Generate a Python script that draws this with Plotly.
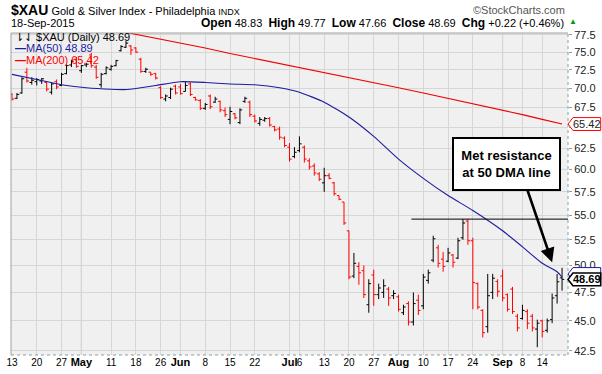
import math
import plotly.graph_objects as go

# ---------------- data ----------------
dates = [
    "2015-04-13", "2015-04-14", "2015-04-15", "2015-04-16", "2015-04-17",
    "2015-04-20", "2015-04-21", "2015-04-22", "2015-04-23", "2015-04-24",
    "2015-04-27", "2015-04-28", "2015-04-29", "2015-04-30", "2015-05-01",
    "2015-05-04", "2015-05-05", "2015-05-06", "2015-05-07", "2015-05-08",
    "2015-05-11", "2015-05-12", "2015-05-13", "2015-05-14", "2015-05-15",
    "2015-05-18", "2015-05-19", "2015-05-20", "2015-05-21", "2015-05-22",
    "2015-05-26", "2015-05-27", "2015-05-28", "2015-05-29", "2015-06-01",
    "2015-06-02", "2015-06-03", "2015-06-04", "2015-06-05", "2015-06-08",
    "2015-06-09", "2015-06-10", "2015-06-11", "2015-06-12", "2015-06-15",
    "2015-06-16", "2015-06-17", "2015-06-18", "2015-06-19", "2015-06-22",
    "2015-06-23", "2015-06-24", "2015-06-25", "2015-06-26", "2015-06-29",
    "2015-06-30", "2015-07-01", "2015-07-02", "2015-07-06", "2015-07-07",
    "2015-07-08", "2015-07-09", "2015-07-10", "2015-07-13", "2015-07-14",
    "2015-07-15", "2015-07-16", "2015-07-17", "2015-07-20", "2015-07-21",
    "2015-07-22", "2015-07-23", "2015-07-24", "2015-07-27", "2015-07-28",
    "2015-07-29", "2015-07-30", "2015-07-31", "2015-08-03", "2015-08-04",
    "2015-08-05", "2015-08-06", "2015-08-07", "2015-08-10", "2015-08-11",
    "2015-08-12", "2015-08-13", "2015-08-14", "2015-08-17", "2015-08-18",
    "2015-08-19", "2015-08-20", "2015-08-21", "2015-08-24", "2015-08-25",
    "2015-08-26", "2015-08-27", "2015-08-28", "2015-08-31", "2015-09-01",
    "2015-09-02", "2015-09-03", "2015-09-04", "2015-09-08", "2015-09-09",
    "2015-09-10", "2015-09-11", "2015-09-14", "2015-09-15", "2015-09-16",
    "2015-09-17", "2015-09-18",
]

opens = [
    69.2, 68.7, 69.4, 72.2, 70.8, 70.9, 71.0, 70.8, 69.5, 70.9,
    70.4, 72.0, 73.2, 74.0, 72.4, 73.2, 74.6, 72.9, 70.5, 72.0,
    72.6, 73.1, 75.2, 75.7, 75.9, 75.6, 74.0, 72.3, 72.2, 72.0,
    70.1, 68.6, 68.8, 70.3, 70.2, 69.6, 70.6, 68.8, 68.4, 67.4,
    69.0, 68.2, 68.3, 67.1, 66.0, 66.7, 65.6, 68.3, 68.2, 66.4,
    65.5, 65.9, 66.1, 65.1, 64.8, 63.7, 62.6, 61.5, 62.2, 62.6,
    61.0, 60.4, 59.5, 58.5, 59.3, 58.5, 57.1, 56.4, 53.4, 49.0,
    49.9, 49.5, 46.4, 49.1, 47.3, 47.5, 47.8, 47.2, 47.1, 45.7,
    46.5, 44.9, 46.8, 46.3, 48.6, 50.5, 51.7, 50.6, 50.4, 51.0,
    50.7, 52.7, 54.4, 52.4, 48.3, 45.9, 44.5, 47.5, 48.5, 49.0,
    47.3, 47.8, 45.4, 45.2, 45.8, 45.4, 44.3, 45.0, 44.2, 45.1,
    47.2, 48.83,
]
highs = [
    69.4, 69.4, 71.5, 72.8, 71.5, 71.4, 71.4, 70.9, 70.8, 71.2,
    72.1, 73.3, 73.9, 74.3, 73.2, 73.5, 74.9, 73.2, 72.1, 73.0,
    73.2, 73.9, 76.0, 76.6, 76.0, 75.7, 74.2, 72.8, 72.2, 72.1,
    70.3, 69.2, 70.1, 70.5, 70.6, 70.9, 70.8, 68.9, 68.6, 68.1,
    69.2, 68.9, 68.4, 67.5, 67.6, 66.8, 67.4, 68.9, 68.4, 66.6,
    66.3, 66.3, 66.3, 65.2, 65.1, 63.9, 63.1, 62.6, 63.9, 62.8,
    61.3, 60.7, 59.7, 60.2, 59.6, 58.6, 57.1, 56.4, 53.4, 51.2,
    50.3, 50.0, 48.7, 49.6, 48.3, 48.7, 48.0, 47.7, 47.3, 46.4,
    46.7, 47.5, 47.3, 49.2, 49.6, 52.9, 52.0, 51.3, 51.7, 51.1,
    52.7, 54.6, 54.6, 52.7, 48.4, 46.0, 49.2, 49.2, 48.7, 49.6,
    47.4, 48.0, 45.6, 46.4, 46.0, 45.6, 45.1, 45.1, 45.2, 47.4,
    49.2, 49.77,
]
lows = [
    68.4, 68.6, 69.3, 70.8, 70.5, 70.4, 70.6, 69.6, 69.2, 69.9,
    70.3, 71.9, 72.9, 72.8, 72.1, 72.9, 72.8, 71.3, 70.1, 71.9,
    72.4, 73.0, 75.1, 75.6, 74.6, 74.9, 72.1, 72.1, 71.7, 71.2,
    68.6, 68.3, 68.6, 69.2, 69.2, 69.6, 69.0, 68.4, 67.2, 67.2,
    67.3, 68.1, 66.9, 66.3, 65.4, 66.0, 65.4, 68.1, 66.3, 65.6,
    65.2, 65.7, 65.1, 64.5, 63.5, 62.6, 60.9, 61.3, 62.0, 60.8,
    60.0, 59.3, 58.7, 57.5, 58.9, 57.1, 56.6, 54.0, 48.7, 48.8,
    48.2, 47.0, 45.7, 46.3, 46.9, 47.0, 46.3, 46.9, 45.8, 45.5,
    44.6, 44.6, 45.5, 46.0, 48.3, 50.3, 49.8, 49.4, 50.3, 49.8,
    50.6, 52.5, 52.0, 46.0, 46.0, 43.6, 44.0, 46.9, 47.1, 46.7,
    45.8, 45.6, 44.1, 45.1, 44.3, 44.1, 42.8, 43.6, 44.0, 44.8,
    46.5, 47.66,
]
closes = [
    68.6, 69.2, 71.3, 71.0, 71.1, 71.2, 71.3, 69.9, 70.6, 70.2,
    71.9, 73.1, 73.7, 73.0, 73.1, 73.3, 73.1, 71.5, 71.9, 72.8,
    73.0, 73.8, 75.8, 76.3, 75.3, 75.0, 72.3, 72.6, 71.9, 71.4,
    68.8, 69.0, 69.9, 69.4, 69.3, 70.4, 69.2, 68.5, 67.4, 67.9,
    67.6, 68.6, 67.2, 66.6, 67.0, 66.2, 67.2, 68.7, 66.6, 65.8,
    66.0, 66.1, 65.3, 64.7, 63.8, 62.8, 61.2, 62.0, 63.0, 61.2,
    60.3, 59.6, 58.9, 59.3, 59.0, 57.3, 56.7, 54.2, 48.9, 50.2,
    49.3, 47.3, 48.3, 47.3, 47.9, 48.1, 47.0, 47.4, 46.0, 46.2,
    44.9, 46.5, 45.9, 48.9, 49.3, 52.6, 50.2, 49.9, 51.2, 50.3,
    52.4, 54.2, 52.4, 48.4, 46.2, 44.0, 47.2, 48.8, 47.6, 47.0,
    46.0, 45.8, 44.4, 45.9, 44.8, 44.4, 44.8, 44.1, 45.0, 47.0,
    48.466, 48.69,
]
close_before_first = 69.3

ma50_dates = ["2015-04-13", "2015-04-20", "2015-04-27", "2015-05-04", "2015-05-11",
              "2015-05-14", "2015-05-18", "2015-05-22", "2015-06-01", "2015-06-08",
              "2015-06-15", "2015-06-22", "2015-06-29", "2015-07-06", "2015-07-13",
              "2015-07-20", "2015-07-27", "2015-08-03", "2015-08-10", "2015-08-17",
              "2015-08-24", "2015-09-01", "2015-09-08", "2015-09-14", "2015-09-17",
              "2015-09-18"]
ma50_vals = [71.9, 71.2, 70.5, 70.1, 69.9,
             69.85, 70.0, 70.4, 70.9, 70.8,
             70.6, 70.5, 70.1, 69.5, 68.2,
             66.3, 63.9, 61.2, 59.0, 57.1,
             55.5, 53.4, 51.8, 50.2, 49.4,
             48.89]

ma200_dates = ["2015-05-11", "2015-05-18", "2015-05-26", "2015-06-01", "2015-06-08",
               "2015-06-15", "2015-06-22", "2015-06-29", "2015-07-06", "2015-07-13",
               "2015-07-20", "2015-07-27", "2015-08-03", "2015-08-10", "2015-08-17",
               "2015-08-24", "2015-09-01", "2015-09-08", "2015-09-14", "2015-09-18"]
ma200_vals = [78.3, 77.6, 76.9, 76.3, 75.6,
              74.8, 74.1, 73.4, 72.8, 72.1,
              71.4, 70.8, 70.1, 69.4, 68.7,
              68.0, 67.2, 66.6, 66.0, 65.42]

tick_dates = ["2015-04-13", "2015-04-20", "2015-04-27", "2015-05-01", "2015-05-11",
              "2015-05-18", "2015-05-26", "2015-06-01", "2015-06-08", "2015-06-15",
              "2015-06-22", "2015-07-01", "2015-07-06", "2015-07-13", "2015-07-20",
              "2015-07-27", "2015-08-03", "2015-08-10", "2015-08-17", "2015-08-24",
              "2015-09-01", "2015-09-08", "2015-09-14"]
tick_labels = ["13", "20", "27", "May", "11", "18", "26", "Jun", "8", "15", "22",
               "Jul", "6", "13", "20", "27", "Aug", "10", "17", "24", "Sep", "8", "14"]
month_labels = ["May", "Jun", "Jul", "Aug", "Sep"]

y_ticks = [42.5, 45.0, 47.5, 50.0, 52.5, 55.0, 57.5, 60.0, 62.5, 65.0,
           67.5, 70.0, 72.5, 75.0, 77.5]
y_min, y_max = 42.17, 77.78

resistance_level = 54.6
resistance_start = "2015-08-05"
arrow_tip_date = "2015-09-16"
arrow_tip_value = 50.3
note_text = "Met resistance<br>at 50 DMA line"

# ---------------- layout geometry (pixels) ----------------
W, H = 602, 374
PL, PT, PW, PH = 6, 33, 562, 325
FONT = "Arial, 'Liberation Sans', sans-serif"


def px(x):
    return (x - PL) / PW


def py(y):
    return (PT + PH - y) / PH


idx = {d: i for i, d in enumerate(dates)}
xs = list(range(len(dates)))
prev = [close_before_first] + closes[:-1]
up = [i for i in xs if closes[i] >= prev[i]]
down = [i for i in xs if closes[i] < prev[i]]

RED = "#FF0000"
BLUE = "#1C1C9E"

fig = go.Figure()


def ohlc(sel, color):
    return go.Ohlc(
        x=[xs[i] for i in sel], open=[opens[i] for i in sel], high=[highs[i] for i in sel],
        low=[lows[i] for i in sel], close=[closes[i] for i in sel],
        increasing=dict(line=dict(color=color, width=1)),
        decreasing=dict(line=dict(color=color, width=1)),
        tickwidth=0.45, showlegend=False, hoverinfo="skip")


fig.add_trace(go.Scatter(x=[idx[d] for d in ma200_dates], y=ma200_vals, mode="lines",
                         line=dict(color="#F00000", width=1.1), showlegend=False, hoverinfo="skip"))
fig.add_trace(go.Scatter(x=[idx[d] for d in ma50_dates], y=ma50_vals, mode="lines",
                         line=dict(color=BLUE, width=1.1, shape="spline", smoothing=0.5),
                         showlegend=False, hoverinfo="skip"))
fig.add_trace(ohlc(up, "#000000"))
fig.add_trace(ohlc(down, RED))

x_lo, x_hi = -0.2, len(dates) - 1 + 1.2

ticktext = []
for t in tick_labels:
    if t in month_labels:
        ticktext.append(f"<b><span style='font-size:11px'>{t}</span></b>")
    else:
        ticktext.append(t)

last_ma200 = ma200_vals[-1]
last_ma50 = ma50_vals[-1]
last_close = closes[-1]

# pixels per unit of ln(price)
k = PH / (math.log(y_max) - math.log(y_min))
tag_values = [last_ma200, last_close]
# y tick labels hidden beneath the value tags (as in the original)
y_ticktext = []
for v in y_ticks:
    hidden = any(abs(k * math.log(v / t)) < 9 for t in tag_values)
    y_ticktext.append("" if hidden else f"{v:.1f}")

shapes = []
for d, t in zip(tick_dates, tick_labels):
    if t in month_labels:
        shapes.append(dict(type="line", xref="x", yref="paper", x0=idx[d], x1=idx[d], y0=0, y1=1,
                           line=dict(color="#ABABAB", width=1), layer="between"))
shapes += [
    dict(type="line", xref="paper", yref="paper", x0=0, x1=0, y0=0, y1=1, line=dict(color="#A0A0A0", width=1)),
    dict(type="line", xref="paper", yref="paper", x0=0, x1=1, y0=1, y1=1, line=dict(color="#A0A0A0", width=1)),
    dict(type="line", xref="paper", yref="paper", x0=1, x1=1, y0=0, y1=1, line=dict(color="#8AA0A0", width=1, dash="dot")),
    dict(type="line", xref="paper", yref="paper", x0=0, x1=1, y0=0, y1=0, line=dict(color="#8AA0A0", width=1, dash="dot")),
]
shapes.append(dict(type="line", xref="x", yref="y", x0=idx[resistance_start] + 0.6, x1=x_hi,
                   y0=resistance_level, y1=resistance_level, line=dict(color="black", width=1)))


def tag(v, color, width=1):
    vt, vb = v * math.exp(6.5 / k), v * math.exp(-6.5 / k)
    xb, xr = 1 + 5 / PW, 1 + 33 / PW
    return dict(type="path", xref="paper", yref="y",
                path=f"M 1,{v} L {xb},{vt} L {xr},{vt} L {xr},{vb} L {xb},{vb} Z",
                fillcolor="white", line=dict(color=color, width=width), layer="above")


shapes.append(tag(last_ma200, RED))
shapes.append(tag(last_ma50 + 0.3, BLUE))
shapes.append(tag(last_close, "#000000", 1.6))

ann = []
tag_x = 1 + 19.5 / PW
ann.append(dict(xref="paper", yref="y", x=tag_x, y=math.log10(last_ma200), text=f"{last_ma200:.2f}",
                xanchor="center", yanchor="middle",
                showarrow=False, font=dict(size=11, color="#222", family=FONT)))
ann.append(dict(xref="paper", yref="y", x=tag_x, y=math.log10(last_close), text=f"<b>{last_close:.2f}</b>",
                xanchor="center", yanchor="middle",
                showarrow=False, font=dict(size=11, color="#000", family=FONT)))

ann.append(dict(xref="paper", yref="paper", x=px(4), y=py(10), xanchor="left", yanchor="middle",
                text="<b><span style='font-size:14px'>$XAU</span></b> Gold &amp; Silver Index - Philadelphia "
                     "<span style='font-size:9px'>INDX</span>",
                showarrow=False, font=dict(size=11, color="#000", family=FONT)))
ann.append(dict(xref="paper", yref="paper", x=px(4), y=py(23), xanchor="left", yanchor="middle",
                text="18-Sep-2015", showarrow=False, font=dict(size=11, color="#000", family=FONT)))
chg = closes[-1] - closes[-2]
pct = chg / closes[-2] * 100
sp = "\u00a0"
hdr = (f"<b><span style='font-size:12px'>Open</span></b> {opens[-1]:.2f}{sp}{sp}"
       f"<b><span style='font-size:12px'>High</span></b> {highs[-1]:.2f}{sp}{sp}"
       f"<b><span style='font-size:12px'>Low</span></b> {lows[-1]:.2f}{sp}{sp}"
       f"<b><span style='font-size:12px'>Close</span></b> {closes[-1]:.2f}{sp}{sp}"
       f"<b><span style='font-size:12px'>Chg</span></b> {chg:+.2f} ({pct:+.2f}%)")
ann.append(dict(xref="paper", yref="paper", x=px(566), y=py(23), xanchor="right", yanchor="middle",
                text=hdr, showarrow=False, font=dict(size=11, color="#000", family=FONT)))
ann.append(dict(xref="paper", yref="paper", x=px(567), y=py(21), xanchor="left", yanchor="middle",
                text="▲", showarrow=False, font=dict(size=8, color="#00A000", family=FONT)))
ann.append(dict(xref="paper", yref="paper", x=px(567), y=py(10), xanchor="right", yanchor="middle",
                text="©StockCharts.com", showarrow=False, font=dict(size=11, color="#555", family=FONT)))

ann.append(dict(xref="paper", yref="paper", x=px(8), y=py(37), xanchor="left", yanchor="middle",
                text=f"⇂⇃ $XAU (Daily) {last_close:.2f}", showarrow=False,
                font=dict(size=11, color="#000", family=FONT)))
ann.append(dict(xref="paper", yref="paper", x=px(8), y=py(48), xanchor="left", yanchor="middle",
                text=f"<b>—</b>MA(50) {last_ma50:.2f}", showarrow=False,
                font=dict(size=11, color=BLUE, family=FONT)))
ann.append(dict(xref="paper", yref="paper", x=px(8), y=py(60), xanchor="left", yanchor="middle",
                text=f"<b>—</b>MA(200) {last_ma200:.2f}", showarrow=False,
                font=dict(size=11, color=RED, family=FONT)))

ann.append(dict(xref="paper", yref="paper", x=px(505.5), y=py(165), xanchor="center", yanchor="middle",
                text=f"<b>{note_text}</b>", showarrow=False, align="center",
                font=dict(size=13, color="#000", family=FONT),
                bgcolor="white", bordercolor="black", borderwidth=2, borderpad=3,
                width=99, height=44))
ann.append(dict(xref="x", yref="y", x=idx[arrow_tip_date], y=math.log10(arrow_tip_value), text="",
                showarrow=True, ax=-25, ay=-73, arrowhead=2, arrowsize=1.1, arrowwidth=2.6,
                arrowcolor="black", standoff=0))

fig.update_layout(
    width=W, height=H, autosize=False,
    margin=dict(l=PL, r=W - PL - PW, t=PT, b=H - PT - PH, pad=0),
    paper_bgcolor="white", plot_bgcolor="#F0F0F0",
    font=dict(family=FONT, color="#000"),
    hovermode=False, showlegend=False,
    xaxis=dict(type="linear", range=[x_lo, x_hi], tickmode="array",
               tickvals=[idx[d] for d in tick_dates], ticktext=ticktext, tickangle=0,
               showgrid=True, gridcolor="#D6D6D6", gridwidth=1, zeroline=False,
               showline=False, ticks="", tickfont=dict(size=10, color="#000", family=FONT),
               rangeslider=dict(visible=False), fixedrange=True),
    yaxis=dict(type="log", range=[math.log10(y_min), math.log10(y_max)], side="right",
               tickmode="array", tickvals=y_ticks, ticktext=y_ticktext,
               showgrid=True, gridcolor="#D6D6D6", gridwidth=1, zeroline=False, showline=False,
               ticks="outside", ticklen=3, tickcolor="#8AA0A0",
               tickfont=dict(size=11, color="#222", family=FONT), fixedrange=True),
    shapes=shapes, annotations=ann,
)

fig.write_html("out.html", config={"displayModeBar": False},
               post_script="document.body.style.margin='0';document.body.style.padding='0';")
